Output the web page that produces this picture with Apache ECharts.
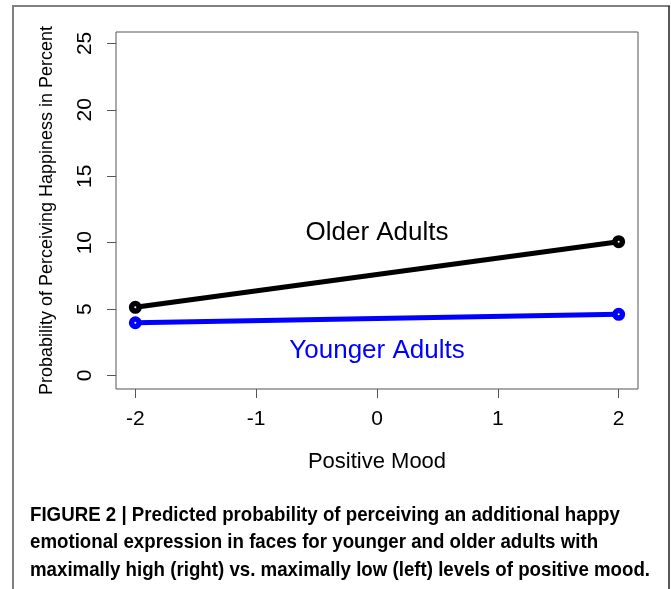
<!DOCTYPE html>
<html>
<head>
<meta charset="utf-8">
<script src="https://cdn.jsdelivr.net/npm/echarts@6/dist/echarts.min.js"></script>
<style>
html,body{margin:0;padding:0;background:#fff;}
#chart{width:671px;height:589px;}
</style>
</head>
<body>
<div id="chart"></div>
<script>
// ---- data ----
const moodX = [-2, 2];
const olderAdults = [5.13, 10.07];
const youngerAdults = [3.97, 4.60];
const xTicks = [-2, -1, 0, 1, 2];
const yTicks = [0, 5, 10, 15, 20, 25];
const groupNames = ['Older Adults', 'Younger Adults'];
const groupLabelAnchors = [[0, 10.76], [0, 1.85]];
const xTitle = 'Positive Mood';
const yTitle = 'Probability of Perceiving Happiness in Percent';
const captionLines = [
  'FIGURE 2 | Predicted probability of perceiving an additional happy',
  'emotional expression in faces for younger and older adults with',
  'maximally high (right) vs. maximally low (left) levels of positive mood.'
];

const FONT = '"Liberation Sans", Arial, Helvetica, sans-serif';
const chart = echarts.init(document.getElementById('chart'), null, {renderer: 'canvas'});

function pairs(xs, ys) { return xs.map((x, i) => [x, ys[i]]); }

const option = {
  animation: false,
  backgroundColor: '#fff',
  grid: {
    left: 116, top: 32, right: 33, bottom: 200,
    show: true, borderColor: '#555', borderWidth: 1, backgroundColor: 'transparent'
  },
  xAxis: {
    type: 'value', min: -2.16, max: 2.16,
    splitLine: {show: false},
    axisLine: {show: false, onZero: false},
    axisTick: {show: true, length: 9, inside: false, customValues: xTicks, lineStyle: {color: '#555', width: 1}},
    axisLabel: {customValues: xTicks, margin: 20, color: '#000', fontSize: 21, fontFamily: FONT},
    name: xTitle, nameLocation: 'middle', nameGap: 62,
    nameTextStyle: {color: '#000', fontSize: 22, fontFamily: FONT}
  },
  yAxis: {
    type: 'value', min: -1.02, max: 25.86,
    splitLine: {show: false},
    axisLine: {show: false, onZero: false},
    axisTick: {show: true, length: 9, inside: false, customValues: yTicks, lineStyle: {color: '#555', width: 1}},
    axisLabel: {customValues: yTicks, rotate: 90, margin: 20, color: '#000', fontSize: 21, fontFamily: FONT},
    name: yTitle, nameLocation: 'middle', nameGap: 60, nameRotate: 90,
    nameTextStyle: {color: '#000', fontSize: 18, fontFamily: FONT}
  },
  series: [
    {
      name: groupNames[0], type: 'line', data: pairs(moodX, olderAdults),
      symbol: 'circle', symbolSize: 7.5,
      lineStyle: {color: '#000', width: 5},
      itemStyle: {color: '#fff', borderColor: '#000', borderWidth: 5.5},
      z: 3
    },
    {
      name: groupNames[1], type: 'line', data: pairs(moodX, youngerAdults),
      symbol: 'circle', symbolSize: 7.5,
      lineStyle: {color: '#0000ff', width: 5},
      itemStyle: {color: '#fff', borderColor: '#0000ff', borderWidth: 5.5},
      z: 3
    },
    {
      type: 'scatter', symbolSize: 0, silent: true,
      itemStyle: {opacity: 1},
      data: groupLabelAnchors.map((p, i) => ({
        value: p,
        itemStyle: {opacity: 1},
        label: {show: true, position: 'inside', formatter: groupNames[i], opacity: 1,
          textBorderWidth: 0,
          color: i === 0 ? '#000' : '#0000ff', fontSize: 26, fontFamily: FONT}
      }))
    }
  ],
  graphic: [
    {type: 'line', shape: {x1: 13, y1: 6, x2: 13, y2: 600}, style: {stroke: '#808080', lineWidth: 2}},
    {type: 'line', shape: {x1: 12, y1: 6, x2: 670, y2: 6}, style: {stroke: '#808080', lineWidth: 2}},
    {type: 'line', shape: {x1: 669, y1: 6, x2: 669, y2: 600}, style: {stroke: '#222', lineWidth: 1.5}}
  ].concat(captionLines.map((t, i) => ({
    type: 'text', x: 30, y: 515 + i * 27.5, scaleX: 0.89,
    style: {text: t, fill: '#000', font: 'bold 21px ' + FONT, textVerticalAlign: 'middle', textAlign: 'left'}
  })))
};
chart.setOption(option);
</script>
</body>
</html>
